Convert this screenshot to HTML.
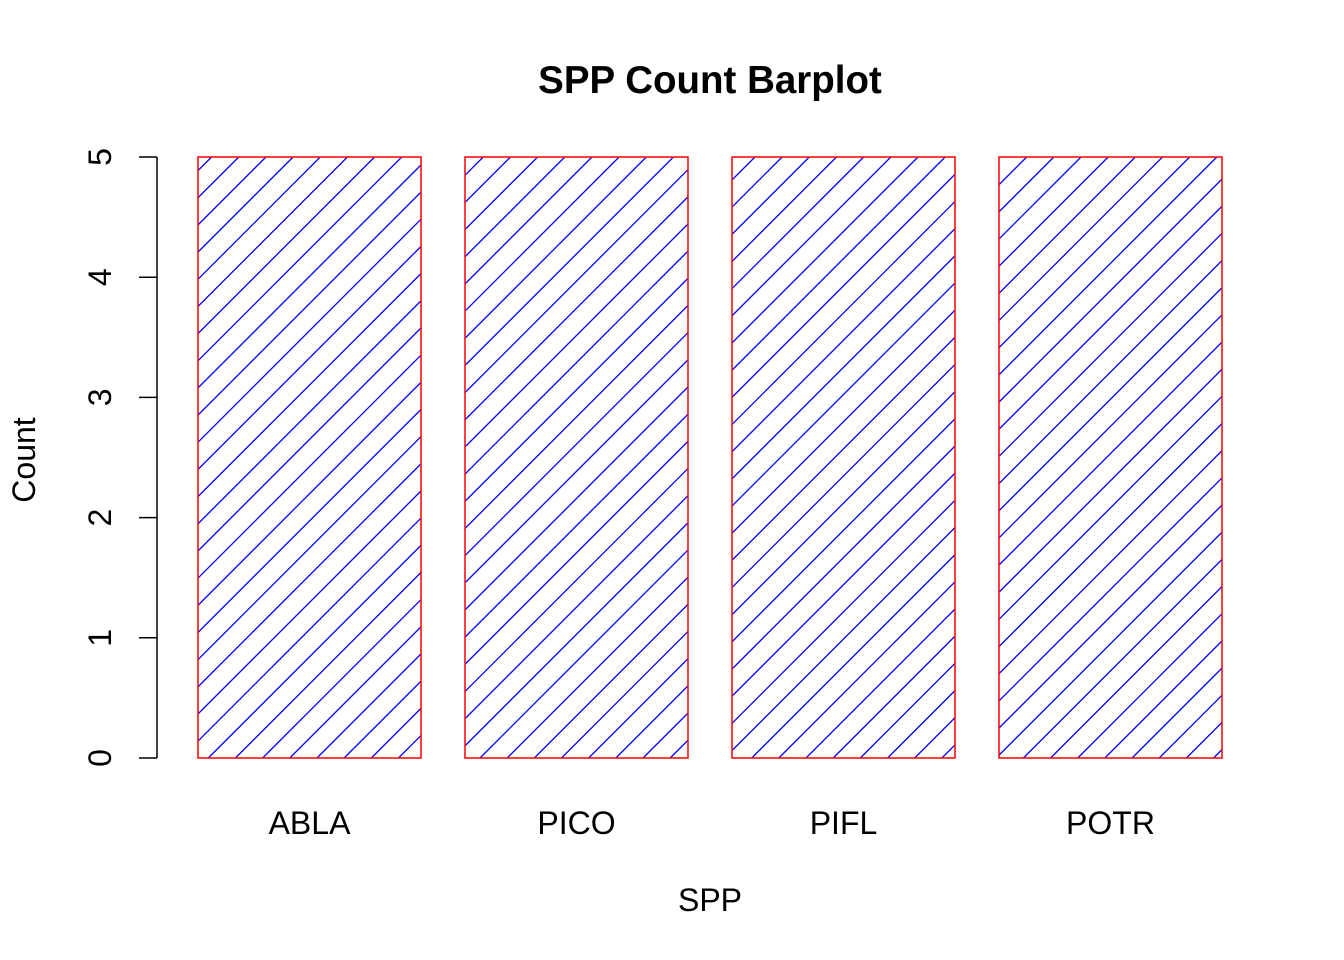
<!DOCTYPE html>
<html><head><meta charset="utf-8"><style>
body{margin:0;background:#fff}
svg{display:block;font-family:"Liberation Sans",Arial,sans-serif}
</style></head><body>
<svg id="chart" width="1344" height="960">
<text x="710" y="93" text-anchor="middle" font-size="38.5" font-weight="bold">SPP Count Barplot</text>
<text x="710" y="911" text-anchor="middle" font-size="32">SPP</text>
<text transform="translate(35,460) rotate(-90)" text-anchor="middle" font-size="32">Count</text>
<g id="yaxis"></g>
<g id="bars"></g>
</svg>
<script>
const categories = ["ABLA","PICO","PIFL","POTR"];
const counts = [5,5,5,5];
const yTicks = [0,1,2,3,4,5];

const NS="http://www.w3.org/2000/svg";
const y0=758, yTop=157, yMax=5;
const y = v => y0 - (v/yMax)*(y0-yTop);
const barW=223, barStep=267, barX0=198;
const x = i => barX0 + i*barStep;
function mk(tag, attrs, parent){const e=document.createElementNS(NS,tag);for(const k in attrs)e.setAttribute(k,attrs[k]);parent.appendChild(e);return e;}

const yaxis=document.getElementById('yaxis');
mk('line',{x1:157,x2:157,y1:y(yTicks[0]),y2:y(yTicks[yTicks.length-1]),stroke:'#000','stroke-width':1.5},yaxis);
yTicks.forEach(t=>{
  const tk=mk('line',{x1:139,x2:157,y1:y(t),y2:y(t),stroke:'#000','stroke-width':1.5},yaxis);
  
  
  const lb=mk('text',{transform:`translate(111,${y(t)}) rotate(-90)`,'text-anchor':'middle','font-size':32},yaxis);
  lb.textContent=t;
  
  
});

const bars=document.getElementById('bars');
const defs=mk('defs',{},bars);
const sp=27.17, base=208.3;
categories.forEach((c,i)=>{
  const bx=x(i), by=y(counts[i]), bh=y0-by;
  const cp=mk('clipPath',{id:'cp'+i},defs);
  mk('rect',{x:bx,y:by,width:barW,height:bh},cp);
  const g=mk('g',{'clip-path':`url(#cp${i})`},bars);
  
  
  const kmin=Math.floor((bx-bh-base)/sp)-1, kmax=Math.ceil((bx+barW-base)/sp)+1;
  for(let k=kmin;k<=kmax;k++){
    const c0=base+k*sp;
    mk('line',{x1:c0,y1:y0,x2:c0+bh,y2:by,stroke:'#0000ff','stroke-width':1.3},g);
  }
  const r=mk('rect',{x:bx,y:by,width:barW,height:bh,fill:'none',stroke:'#ff0000','stroke-width':1.5},bars);
  
  
  const lb=mk('text',{x:bx+barW/2,y:834,'text-anchor':'middle','font-size':32},bars);
  lb.textContent=c;
  
  
});
</script>
</body></html>
